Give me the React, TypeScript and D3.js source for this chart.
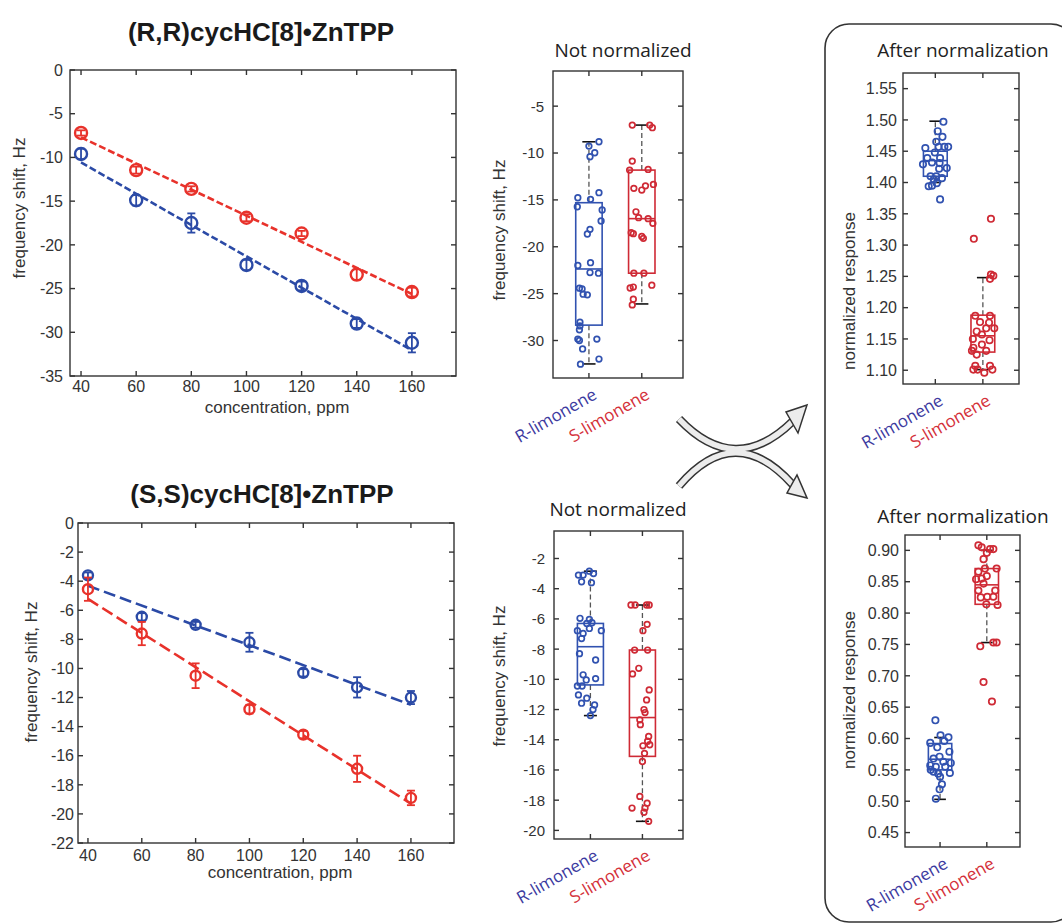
import React from 'react';
import * as d3 from 'd3';

const W = 1062;
const H = 924;
const INK = '#333';
const SANS = '"Liberation Sans", Arial, sans-serif';
const HUMAN = '"Open Sans", "Noto Sans", sans-serif';

const LINE_BLUE = '#2b4aa6';
const LINE_RED = '#e8322b';
const BOX_BLUE = '#3152b0';
const BOX_RED = '#cf2a35';
const LBL_BLUE = '#3d3b9f';
const LBL_RED = '#d4303a';

// concentration series, ppm
const conc = [40, 60, 80, 100, 120, 140, 160];

// (R,R)cycHC[8]•ZnTPP
const rrR = [-9.6, -14.9, -17.5, -22.3, -24.7, -29.0, -31.2];
const rrRErr = [0.6, 0.6, 1.1, 0.6, 0.5, 0.5, 1.1];
const rrS = [-7.2, -11.45, -13.6, -16.9, -18.7, -23.4, -25.4];
const rrSErr = [0.3, 0.4, 0.3, 0.4, 0.3, 0.6, 0.5];

// (S,S)cycHC[8]•ZnTPP
const ssR = [-3.6, -6.45, -7.0, -8.2, -10.3, -11.3, -12.0];
const ssRErr = [0.2, 0.25, 0.2, 0.65, 0.25, 0.7, 0.45];
const ssS = [-4.55, -7.6, -10.5, -12.8, -14.55, -16.9, -18.9];
const ssSErr = [0.8, 0.8, 0.85, 0.3, 0.25, 0.9, 0.5];

const ticksA = [0, -5, -10, -15, -20, -25, -30, -35];
const ticksB = [0, -2, -4, -6, -8, -10, -12, -14, -16, -18, -20, -22];
const ticksC = [-5, -10, -15, -20, -25, -30];
const ticksD = [-2, -4, -6, -8, -10, -12, -14, -16, -18, -20];
const ticksE = [1.1, 1.15, 1.2, 1.25, 1.3, 1.35, 1.4, 1.45, 1.5, 1.55];
const ticksF = [0.45, 0.5, 0.55, 0.6, 0.65, 0.7, 0.75, 0.8, 0.85, 0.9];

const categories = ['R-limonene', 'S-limonene'];

// box stats: [lower whisker, Q1, median, Q3, upper whisker]
const statsCR = [-32.5, -28.36, -22.37, -15.3, -8.8];
const statsCS = [-26.1, -22.82, -17.0, -11.82, -7.02];
const statsDR = [-12.4, -10.37, -7.84, -6.3, -2.84];
const statsDS = [-19.4, -15.1, -12.53, -8.06, -5.08];
const statsER = [1.4, 1.41, 1.435, 1.45, 1.498];
const statsES = [1.101, 1.129, 1.155, 1.188, 1.248];
const statsFR = [0.503, 0.55, 0.567, 0.592, 0.6016];
const statsFS = [0.753, 0.814, 0.845, 0.871, 0.9];

// individual measurements (value) and their horizontal jitter (category units)
const ptsCR = [-8.8, -9.26, -9.97, -10.4, -14.77, -14.94, -14.23, -15.73, -16.08, -17.25, -18.14, -18.64, -22.0, -21.7, -22.75, -22.82, -24.42, -24.5, -25.06, -25.13, -28.04, -28.44, -28.86, -29.85, -30.0, -29.85, -30.9, -32.52, -31.98];
const jitCR = [0.19, 0, 0.11, 0.02, -0.21, 0.03, 0.19, -0.22, 0.25, 0.23, 0.02, -0.03, -0.21, 0.03, 0.02, 0.18, -0.18, -0.13, -0.11, -0.03, -0.17, -0.17, -0.18, -0.21, -0.18, 0.15, -0.12, -0.16, 0.19];
const ptsCS = [-7.02, -7.02, -7.3, -10.86, -11.82, -11.75, -13.77, -13.95, -13.5, -13.35, -16.27, -16.9, -17.0, -17.5, -18.5, -18.6, -18.9, -19.1, -22.82, -22.82, -24.4, -24.3, -24.1, -25.6, -26.2];
const jitCS = [-0.18, 0.15, 0.2, -0.18, -0.23, 0.12, -0.15, 0, 0.07, 0.22, -0.11, -0.06, 0.12, 0.21, -0.2, -0.16, 0, 0.03, -0.15, 0.04, -0.22, -0.16, 0.19, -0.16, -0.18];

const ptsDR = [-2.84, -3.0, -3.1, -3.1, -3.54, -3.6, -5.96, -6.03, -6.3, -6.25, -6.63, -6.78, -6.96, -6.78, -7.3, -8.3, -8.72, -9.7, -9.95, -10.04, -10.44, -10.44, -11.03, -11.25, -11.58, -11.7, -12.0, -12.4];
const jitDR = [-0.02, 0.06, -0.14, -0.23, -0.17, 0.02, -0.2, -0.02, -0.07, 0.03, -0.02, -0.25, -0.14, 0.21, -0.17, -0.21, 0.1, -0.14, 0.1, -0.08, -0.25, -0.16, -0.23, -0.07, -0.17, 0.08, 0.05, 0];
const ptsDS = [-5.08, -5.08, -5.08, -5.08, -6.36, -6.78, -8.06, -8.06, -9.64, -9.27, -10.7, -11.36, -12.0, -12.2, -12.68, -13.0, -13.78, -14.1, -14.4, -14.33, -14.9, -15.44, -17.75, -18.52, -18.2, -18.52, -18.8, -19.4];
const jitDS = [-0.22, -0.14, 0.08, 0.13, 0.09, 0.01, -0.15, 0.1, -0.19, -0.07, 0.13, 0.08, 0.03, 0.05, -0.05, -0.04, 0.12, 0.1, 0.01, 0.14, 0.04, 0, -0.05, -0.2, 0.09, 0.05, 0.03, 0.12];

const ptsER = [1.497, 1.482, 1.473, 1.465, 1.455, 1.457, 1.457, 1.457, 1.448, 1.439, 1.439, 1.429, 1.432, 1.431, 1.423, 1.422, 1.41, 1.41, 1.405, 1.407, 1.395, 1.399, 1.394, 1.373];
const jitER = [0.17, 0.05, 0.15, 0.02, -0.21, 0.07, 0.19, 0.27, -0.01, -0.17, 0.1, -0.26, -0.07, 0.09, 0.24, 0.08, -0.1, 0.02, -0.03, 0.14, -0.07, 0.03, -0.14, 0.1];
const ptsES = [1.342, 1.31, 1.253, 1.251, 1.246, 1.187, 1.187, 1.177, 1.176, 1.167, 1.167, 1.162, 1.157, 1.15, 1.148, 1.141, 1.136, 1.131, 1.131, 1.125, 1.107, 1.107, 1.101, 1.096, 1.101, 1.101];
const jitES = [0.17, -0.19, 0.17, 0.22, 0.15, -0.16, 0.15, -0.06, 0.13, 0.07, 0.24, -0.13, -0.02, -0.21, 0.14, -0.02, -0.2, -0.23, 0.07, -0.13, -0.16, 0.15, -0.11, 0.03, 0.2, -0.2];

const ptsFR = [0.629, 0.593, 0.605, 0.602, 0.596, 0.586, 0.579, 0.568, 0.571, 0.557, 0.563, 0.561, 0.555, 0.555, 0.547, 0.545, 0.544, 0.539, 0.527, 0.519, 0.504, 0.55];
const jitFR = [-0.1, -0.21, 0.01, 0.18, 0.09, -0.06, 0.2, -0.14, -0.01, -0.21, 0.07, 0.23, -0.09, 0.11, -0.14, 0.21, -0.04, 0, 0.04, -0.01, -0.09, -0.2];
const ptsFS = [0.908, 0.905, 0.902, 0.902, 0.896, 0.886, 0.871, 0.871, 0.866, 0.854, 0.855, 0.859, 0.847, 0.836, 0.836, 0.826, 0.825, 0.826, 0.814, 0.813, 0.753, 0.753, 0.747, 0.69, 0.659];
const jitFS = [-0.18, -0.11, 0.07, 0.14, 0, -0.07, 0.21, -0.04, -0.18, -0.23, -0.11, 0, -0.07, -0.18, 0.18, 0.01, -0.13, 0.14, -0.01, 0.23, 0.14, 0.21, -0.14, -0.07, 0.11];

type Box = { x0: number; x1: number; y0: number; y1: number };

function linearFit(xs: number[], ys: number[]) {
  const mx = d3.mean(xs) as number;
  const my = d3.mean(ys) as number;
  const sxy = d3.sum(xs, (v, i) => (v - mx) * (ys[i] - my));
  const sxx = d3.sum(xs, v => (v - mx) * (v - mx));
  const b = sxy / sxx;
  return (v: number) => my + b * (v - mx);
}

function Frame({ f, x, y, xt, yt, tick = 5 }: any) {
  return (
    <g stroke={INK} strokeWidth={1.4} fill="none">
      <rect x={f.x0} y={f.y0} width={f.x1 - f.x0} height={f.y1 - f.y0} />
      {yt.map((v: number) => (
        <g key={'y' + v}>
          <line x1={f.x0} x2={f.x0 + tick} y1={y(v)} y2={y(v)} />
          <line x1={f.x1} x2={f.x1 - tick} y1={y(v)} y2={y(v)} />
        </g>
      ))}
      {xt.map((v: number) => (
        <g key={'x' + v}>
          <line x1={x(v)} x2={x(v)} y1={f.y1} y2={f.y1 - tick} />
          <line x1={x(v)} x2={x(v)} y1={f.y0} y2={f.y0 + tick} />
        </g>
      ))}
    </g>
  );
}

function YLabel({ text, x, y, size = 17 }: any) {
  return (
    <text transform={`translate(${x},${y}) rotate(-90)`} textAnchor="middle"
      fontFamily={SANS} fontSize={size} fill={INK}>{text}</text>
  );
}

function LinePanel({ p }: any) {
  const f: Box = p.f;
  const x = d3.scaleLinear().domain(p.xDomain).range([f.x0, f.x1]);
  const y = d3.scaleLinear().domain(p.yDomain).range([f.y1, f.y0]);
  const line = d3.line<number>().x(d => x(d[0])).y(d => y(d[1]));
  return (
    <g>
      <text x={p.titleX} y={p.titleY} textAnchor="middle" fontFamily={SANS}
        fontWeight="bold" fontSize={26} fill="#1a1a1a">{p.title}</text>
      {p.series.map((s: any, si: number) => {
        const fit = linearFit(conc, s.mean);
        const ends = [conc[0], conc[conc.length - 1]].map(c => [c, fit(c)]);
        return (
          <g key={si} stroke={s.color} fill="none">
            <path d={line(ends as any) as string} strokeWidth={2.6} strokeDasharray={p.dash} />
            {conc.map((c, i) => {
              const cx = x(c);
              const lo = y(s.mean[i] - s.err[i]);
              const hi = y(s.mean[i] + s.err[i]);
              return (
                <g key={c} strokeWidth={1.8}>
                  <line x1={cx} x2={cx} y1={lo} y2={hi} />
                  <line x1={cx - 4} x2={cx + 4} y1={lo} y2={lo} />
                  <line x1={cx - 4} x2={cx + 4} y1={hi} y2={hi} />
                  <circle cx={cx} cy={y(s.mean[i])} r={p.r} strokeWidth={2.4} />
                </g>
              );
            })}
          </g>
        );
      })}
      <Frame f={f} x={x} y={y} xt={conc} yt={p.yt} />
      <g fontFamily={SANS} fontSize={16} fill={INK}>
        {p.yt.map((v: number) => (
          <text key={v} x={f.x0 - p.yGap} y={y(v)} dy="0.36em" textAnchor="end">{v}</text>
        ))}
        {conc.map(v => (
          <text key={v} x={x(v)} y={p.xTickY} textAnchor="middle">{v}</text>
        ))}
        <text x={p.xLabelX} y={p.xLabelY} textAnchor="middle" fontSize={17}>concentration, ppm</text>
      </g>
      <YLabel text="frequency shift, Hz" x={p.yLabelX} y={p.yLabelY} />
    </g>
  );
}

function BoxPanel({ p }: any) {
  const f: Box = p.f;
  const x = d3.scaleLinear().domain(p.xDomain).range([f.x0, f.x1]);
  const y = d3.scaleLinear().domain(p.yDomain).range([f.y1, f.y0]);
  const fmt = p.fmt || ((v: number) => String(v));
  const half = (x(2) - x(1)) * 0.25;
  const cap = half / 2;
  return (
    <g>
      <text x={p.titleX} y={p.titleY} textAnchor="middle" fontFamily={HUMAN}
        fontSize={19} fill="#222">{p.title}</text>
      {p.groups.map((g: any, gi: number) => {
        const cx = x(gi + 1);
        const [wl, q1, md, q3, wh] = g.stats;
        return (
          <g key={gi} fill="none">
            <line x1={cx} x2={cx} y1={y(q3)} y2={y(wh)} stroke="#555" strokeWidth={1.3} strokeDasharray="5 3" />
            <line x1={cx} x2={cx} y1={y(q1)} y2={y(wl)} stroke="#555" strokeWidth={1.3} strokeDasharray="5 3" />
            <line x1={cx - cap} x2={cx + cap} y1={y(wh)} y2={y(wh)} stroke="#111" strokeWidth={1.6} />
            <line x1={cx - cap} x2={cx + cap} y1={y(wl)} y2={y(wl)} stroke="#111" strokeWidth={1.6} />
            <rect x={cx - half} width={half * 2} y={y(q3)} height={y(q1) - y(q3)}
              stroke={g.boxColor} strokeWidth={1.6} />
            <line x1={cx - half} x2={cx + half} y1={y(md)} y2={y(md)} stroke={g.boxColor} strokeWidth={1.6} />
            {g.values.map((v: number, i: number) => (
              <circle key={i} cx={x(gi + 1 + g.jitter[i])} cy={y(v)} r={p.pr}
                stroke={g.color} strokeWidth={1.7} />
            ))}
          </g>
        );
      })}
      <Frame f={f} x={x} y={y} xt={[1, 2]} yt={p.yt} />
      <g fontFamily={SANS} fontSize={p.tickFont} fill={INK}>
        {p.yt.map((v: number) => (
          <text key={v} x={f.x0 - p.yGap} y={y(v)} dy="0.36em" textAnchor="end">{fmt(v)}</text>
        ))}
      </g>
      {categories.map((c, i) => (
        <text key={c} transform={`translate(${x(i + 1) + 9},${f.y1 + 20}) rotate(-30)`}
          textAnchor="end" fontFamily={HUMAN} fontSize={17}
          fill={i === 0 ? LBL_BLUE : LBL_RED}>{c}</text>
      ))}
      <YLabel text={p.yLabel} x={p.yLabelX} y={p.yLabelY} />
    </g>
  );
}

const panelA = {
  f: { x0: 70, x1: 456, y0: 70, y1: 376 },
  xDomain: [36, 176], yDomain: [-35, 0], yt: ticksA,
  title: '(R,R)cycHC[8]•ZnTPP', titleX: 261, titleY: 41,
  series: [
    { mean: rrS, err: rrSErr, color: LINE_RED },
    { mean: rrR, err: rrRErr, color: LINE_BLUE },
  ],
  r: 6, dash: '7 3', yGap: 7, xTickY: 392, xLabelX: 277, xLabelY: 413,
  yLabelX: 25, yLabelY: 208,
};

const panelB = {
  f: { x0: 78, x1: 454, y0: 523, y1: 843 },
  xDomain: [36.3, 176], yDomain: [-22, 0], yt: ticksB,
  title: '(S,S)cycHC[8]•ZnTPP', titleX: 262, titleY: 503,
  series: [
    { mean: ssR, err: ssRErr, color: LINE_BLUE },
    { mean: ssS, err: ssSErr, color: LINE_RED },
  ],
  r: 5, dash: '12 5', yGap: 4, xTickY: 861, xLabelX: 280, xLabelY: 878,
  yLabelX: 37, yLabelY: 672,
};

const fmt2 = d3.format('.2f');

const panelC = {
  f: { x0: 553, x1: 683, y0: 71, y1: 378 },
  xDomain: [0.32, 2.78], yDomain: [-34, -1.25], yt: ticksC, tickFont: 15, yGap: 9,
  title: 'Not normalized', titleX: 623, titleY: 57, pr: 2.8,
  yLabel: 'frequency shift, Hz', yLabelX: 505, yLabelY: 230,
  groups: [
    { values: ptsCR, jitter: jitCR, stats: statsCR, color: BOX_BLUE, boxColor: BOX_BLUE },
    { values: ptsCS, jitter: jitCS, stats: statsCS, color: BOX_RED, boxColor: BOX_RED },
  ],
};

const panelD = {
  f: { x0: 554, x1: 683, y0: 531, y1: 839 },
  xDomain: [0.3, 2.78], yDomain: [-20.57, -0.18], yt: ticksD, tickFont: 15, yGap: 9,
  title: 'Not normalized', titleX: 618, titleY: 516, pr: 2.8,
  yLabel: 'frequency shift, Hz', yLabelX: 505, yLabelY: 676,
  groups: [
    { values: ptsDR, jitter: jitDR, stats: statsDR, color: BOX_BLUE, boxColor: BOX_BLUE },
    { values: ptsDS, jitter: jitDS, stats: statsDS, color: BOX_RED, boxColor: BOX_RED },
  ],
};

const panelE = {
  f: { x0: 903, x1: 1019, y0: 73, y1: 384 },
  xDomain: [0.32, 2.76], yDomain: [1.078, 1.575], yt: ticksE, tickFont: 16, yGap: 6, fmt: fmt2,
  title: 'After normalization', titleX: 963, titleY: 57, pr: 3.2,
  yLabel: 'normalized response', yLabelX: 855, yLabelY: 291,
  groups: [
    { values: ptsER, jitter: jitER, stats: statsER, color: BOX_BLUE, boxColor: BOX_BLUE },
    { values: ptsES, jitter: jitES, stats: statsES, color: BOX_RED, boxColor: BOX_RED },
  ],
};

const panelF = {
  f: { x0: 905, x1: 1020, y0: 535, y1: 847 },
  xDomain: [0.25, 2.71], yDomain: [0.427, 0.9245], yt: ticksF, tickFont: 16, yGap: 6, fmt: fmt2,
  title: 'After normalization', titleX: 963, titleY: 523, pr: 3.2,
  yLabel: 'normalized response', yLabelX: 855, yLabelY: 690,
  groups: [
    { values: ptsFR, jitter: jitFR, stats: statsFR, color: BOX_BLUE, boxColor: BOX_BLUE },
    { values: ptsFS, jitter: jitFS, stats: statsFS, color: BOX_RED, boxColor: BOX_RED },
  ],
};

function CrossArrows() {
  const shafts = ['M 679 419 Q 735 478 793 421', 'M 679 486 Q 735 420 793 485'];
  const heads = ['807,405 786,412 798,433', '807,498 787,493 797,475'];
  return (
    <g>
      {shafts.map(d => <path key={'o' + d} d={d} fill="none" stroke={INK} strokeWidth={8.5} />)}
      {shafts.map(d => <path key={'i' + d} d={d} fill="none" stroke="#ececec" strokeWidth={5.5} />)}
      {heads.map(pts => <polygon key={pts} points={pts} fill="#ececec" stroke={INK} strokeWidth={1.5} strokeLinejoin="miter" />)}
    </g>
  );
}

export default function App() {
  return (
    <svg width={W} height={H} style={{ position: 'absolute', left: 0, top: 0, background: '#fff' }}>
      <rect width={W} height={H} fill="#fff" />
      <LinePanel p={panelA} />
      <LinePanel p={panelB} />
      <BoxPanel p={panelC} />
      <BoxPanel p={panelD} />
      <rect x={825} y={24} width={250} height={898} rx={24} fill="none" stroke={INK} strokeWidth={1.6} />
      <BoxPanel p={panelE} />
      <BoxPanel p={panelF} />
      <CrossArrows />
    </svg>
  );
}
